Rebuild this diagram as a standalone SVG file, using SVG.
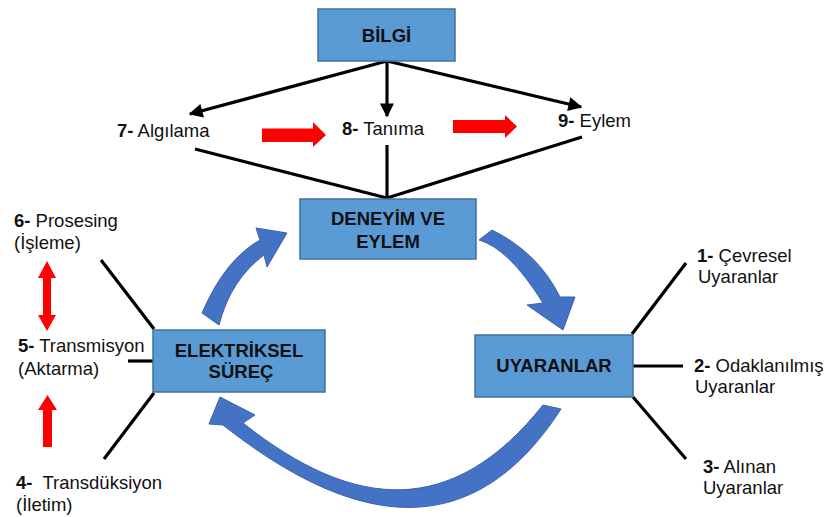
<svg xmlns="http://www.w3.org/2000/svg" width="827" height="517" viewBox="0 0 827 517">
  <style>
    .box { fill: #5B9BD5; stroke: #41719C; stroke-width: 1.5; }
    .boxtxt { font-family: "Liberation Sans", Arial, sans-serif; font-size: 18.5px; font-weight: bold; fill: #111; text-anchor: middle; }
    .lbl { font-family: "Liberation Sans", Arial, sans-serif; font-size: 18.5px; fill: #111; }
    .lbl .n { font-weight: bold; }
    .ln { stroke: #000; stroke-width: 3.2; fill: none; stroke-linecap: butt; }
    .cyc { fill: #4472C4; stroke: #3A63AD; stroke-width: 1; }
    .red { fill: #FF0000; }
  </style>
  <defs>
    <marker id="ah" viewBox="0 0 10 10" refX="9" refY="5" markerUnits="userSpaceOnUse" markerWidth="16" markerHeight="14" orient="auto">
      <path d="M0,0 L10,5 L0,10 Z" fill="#000"/>
    </marker>
  </defs>

  <!-- connectors -->
  <g id="connectors">
    <!-- from BİLGİ to the three steps -->
    <line class="ln" x1="387" y1="61" x2="190" y2="114" marker-end="url(#ah)"/>
    <line class="ln" x1="387" y1="61" x2="387" y2="116" marker-end="url(#ah)"/>
    <line class="ln" x1="387" y1="61" x2="581" y2="107" marker-end="url(#ah)"/>
    <!-- from the steps down to DENEYİM VE EYLEM -->
    <line class="ln" x1="195" y1="149" x2="387" y2="198"/>
    <line class="ln" x1="387" y1="145" x2="387" y2="198"/>
    <line class="ln" x1="582" y1="137" x2="387" y2="198"/>
    <!-- ELEKTRİKSEL SÜREÇ spokes -->
    <line class="ln" x1="101" y1="260" x2="154" y2="329"/>
    <line class="ln" x1="128" y1="361" x2="153" y2="361"/>
    <line class="ln" x1="154" y1="393" x2="104" y2="459"/>
    <!-- UYARANLAR spokes -->
    <line class="ln" x1="632" y1="334" x2="686" y2="263"/>
    <line class="ln" x1="633" y1="366" x2="683" y2="366"/>
    <line class="ln" x1="633" y1="397" x2="686" y2="459"/>
    <!-- cycle arrows -->
    <path class="cyc" d="M479,240 L492,230 Q538,252.5 560,297 L575,297 L563,330 L527,305 L543,303 Q509,248.5 479,240 Z"/>
    <path class="cyc" d="M543,405 L561,409 C470,550 350,525 223,425 L209,424 L220,397 L255,415 L243,423 C355,512 453,518 543,405 Z"/>
    <path class="cyc" d="M202,313 Q225,259.5 260,240 L256,228 L287,233 L267,267 L264,255 Q230.5,280 219,325 Z"/>
    <!-- red flow arrows -->
    <path class="red" d="M262,128.5 L313,128.5 L313,122 L326,135 L313,147 L313,142 L262,142 Z"/>
    <path class="red" d="M453,120 L505,120 L505,115 L517,126.5 L505,138 L505,133 L453,133 Z"/>
    <path class="red" d="M47,261 L56,278 L51,278 L51,315 L56,315 L47,331 L38,315 L43,315 L43,278 L38,278 Z"/>
    <path class="red" d="M47.5,395 L57,410 L52,410 L52,447 L43,447 L43,410 L38,410 Z"/>
  </g>

  <g id="bilgi">
    <rect class="box" x="318" y="9" width="137" height="52"/>
    <text class="boxtxt" x="386.5" y="42">BİLGİ</text>
  </g>

  <g id="deneyim">
    <rect class="box" x="300" y="199" width="176" height="60"/>
    <text class="boxtxt" x="388" y="225">DENEYİM VE</text>
    <text class="boxtxt" x="388" y="248">EYLEM</text>
  </g>

  <g id="elektriksel">
    <rect class="box" x="153" y="330" width="172" height="62"/>
    <text class="boxtxt" x="239" y="357">ELEKTRİKSEL</text>
    <text class="boxtxt" x="241" y="378">SÜREÇ</text>
  </g>

  <g id="uyaranlar">
    <rect class="box" x="475" y="335" width="158" height="62"/>
    <text class="boxtxt" x="554" y="372">UYARANLAR</text>
  </g>

  <g id="algilama">
    <text class="lbl" x="117" y="137"><tspan class="n">7-</tspan> Algılama</text>
  </g>
  <g id="tanima">
    <text class="lbl" x="342" y="135"><tspan class="n">8-</tspan> Tanıma</text>
  </g>
  <g id="eylem">
    <text class="lbl" x="558" y="127"><tspan class="n">9-</tspan> Eylem</text>
  </g>

  <g id="prosesing">
    <text class="lbl" x="14" y="227"><tspan class="n">6-</tspan> Prosesing</text>
    <text class="lbl" x="14" y="249">(İşleme)</text>
  </g>
  <g id="transmisyon">
    <text class="lbl" x="18" y="352"><tspan class="n">5-</tspan> Transmisyon</text>
    <text class="lbl" x="18" y="375">(Aktarma)</text>
  </g>
  <g id="transduksiyon">
    <text class="lbl" x="16" y="489"><tspan class="n">4-</tspan><tspan dx="10">Transdüksiyon</tspan></text>
    <text class="lbl" x="16" y="511">(İletim)</text>
  </g>

  <g id="cevresel">
    <text class="lbl" x="697" y="262"><tspan class="n">1-</tspan> Çevresel</text>
    <text class="lbl" x="698" y="283">Uyaranlar</text>
  </g>
  <g id="odaklanilmis">
    <text class="lbl" x="694" y="372"><tspan class="n">2-</tspan> Odaklanılmış</text>
    <text class="lbl" x="695" y="393">Uyaranlar</text>
  </g>
  <g id="alinan">
    <text class="lbl" x="703" y="473"><tspan class="n">3-</tspan> Alınan</text>
    <text class="lbl" x="703" y="494">Uyaranlar</text>
  </g>
</svg>
